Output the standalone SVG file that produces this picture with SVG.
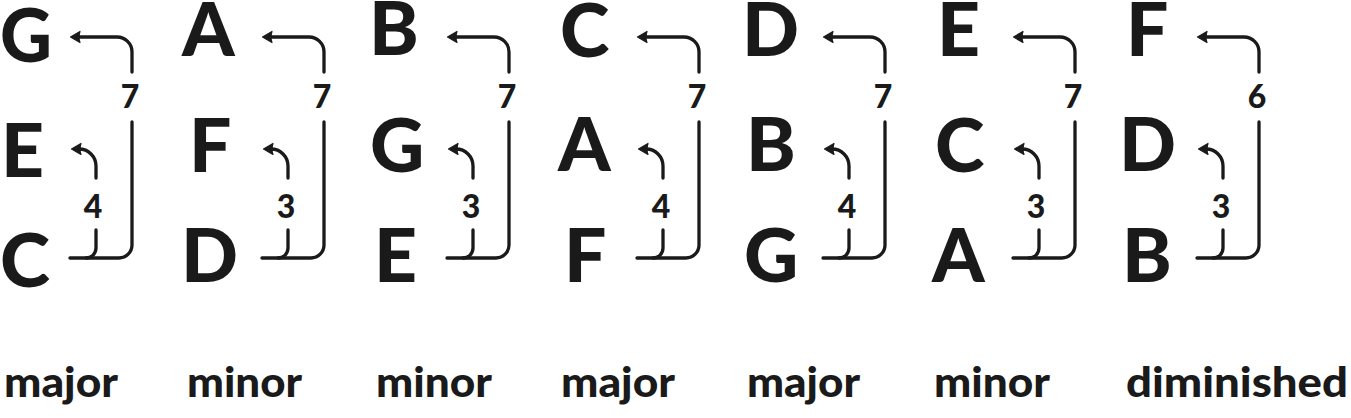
<svg xmlns="http://www.w3.org/2000/svg" width="1351" height="418" viewBox="0 0 1351 418">
<style>
.n{font-family:Lato,"Liberation Sans",sans-serif;font-weight:900;font-size:75px;fill:#1a1a1a}
.i{font-family:Lato,"Liberation Sans",sans-serif;font-weight:900;font-size:32px;fill:#1a1a1a;text-anchor:middle}
.q{font-family:Lato,"Liberation Sans",sans-serif;font-weight:900;font-size:42px;fill:#1a1a1a}
.c{fill:none;stroke:#1a1a1a;stroke-width:3.3;stroke-linecap:round;stroke-linejoin:round}
.h{marker-end:url(#ah)}
</style>
<defs>
<marker id="ah" markerUnits="userSpaceOnUse" orient="auto" refX="0" refY="0" markerWidth="20" markerHeight="20" viewBox="-10 -10 20 20" overflow="visible">
<path d="M-5,-5.5 L4.5,0 L-5,5.5 Q-3,0 -5,-5.5 Z" fill="#1a1a1a" stroke="#1a1a1a" stroke-width="1.2" stroke-linejoin="round"/>
</marker>
<g id="arr">
<path class="c h" d="M0,72 V52 A15,15 0 0 0 -15,37 H-57"/>
<path class="c" d="M0,122 V245 A13,13 0 0 1 -13,258 H-62"/>
<path class="c h" d="M-36,178 V166 A17,17 0 0 0 -53,149 H-56"/>
<path class="c" d="M-36,230 V248 A10,10 0 0 1 -46,258"/>
</g>
</defs>
<g id="connectors">
<use href="#arr" x="132"/>
<use href="#arr" x="324"/>
<use href="#arr" x="509"/>
<use href="#arr" x="699"/>
<use href="#arr" x="885"/>
<use href="#arr" x="1075"/>
<use href="#arr" x="1259"/>
</g>
<g id="col1">
<text class="n" x="0" y="62" textLength="52" lengthAdjust="spacingAndGlyphs">G</text>
<text class="n" x="1" y="177">E</text>
<text class="n" x="0" y="287" textLength="50" lengthAdjust="spacingAndGlyphs">C</text>
<text class="i" x="130" y="108">7</text>
<text class="i" x="93" y="218">4</text>
<text class="q" x="4" y="397" textLength="114" lengthAdjust="spacingAndGlyphs">major</text>
</g>
<g id="col2">
<text class="n" x="182" y="56">A</text>
<text class="n" x="189" y="172">F</text>
<text class="n" x="181" y="282">D</text>
<text class="i" x="322" y="108">7</text>
<text class="i" x="286" y="218">3</text>
<text class="q" x="187" y="397" textLength="115" lengthAdjust="spacingAndGlyphs">minor</text>
</g>
<g id="col3">
<text class="n" x="369" y="55">B</text>
<text class="n" x="370" y="172">G</text>
<text class="n" x="374" y="282">E</text>
<text class="i" x="507" y="108">7</text>
<text class="i" x="471" y="218">3</text>
<text class="q" x="376" y="397" textLength="116" lengthAdjust="spacingAndGlyphs">minor</text>
</g>
<g id="col4">
<text class="n" x="560" y="57">C</text>
<text class="n" x="558" y="171">A</text>
<text class="n" x="564" y="282">F</text>
<text class="i" x="697" y="108">7</text>
<text class="i" x="661" y="218">4</text>
<text class="q" x="561" y="397" textLength="114" lengthAdjust="spacingAndGlyphs">major</text>
</g>
<g id="col5">
<text class="n" x="742" y="56">D</text>
<text class="n" x="746" y="171">B</text>
<text class="n" x="744" y="282">G</text>
<text class="i" x="883" y="108">7</text>
<text class="i" x="847" y="218">4</text>
<text class="q" x="747" y="397" textLength="113" lengthAdjust="spacingAndGlyphs">major</text>
</g>
<g id="col6">
<text class="n" x="937" y="56">E</text>
<text class="n" x="935" y="172">C</text>
<text class="n" x="932" y="282">A</text>
<text class="i" x="1073" y="108">7</text>
<text class="i" x="1036" y="218">3</text>
<text class="q" x="934" y="397" textLength="116" lengthAdjust="spacingAndGlyphs">minor</text>
</g>
<g id="col7">
<text class="n" x="1126" y="56">F</text>
<text class="n" x="1119" y="171">D</text>
<text class="n" x="1122" y="282">B</text>
<text class="i" x="1257" y="108">6</text>
<text class="i" x="1221" y="218">3</text>
<text class="q" x="1126" y="397" textLength="222" lengthAdjust="spacingAndGlyphs">diminished</text>
</g>
</svg>
